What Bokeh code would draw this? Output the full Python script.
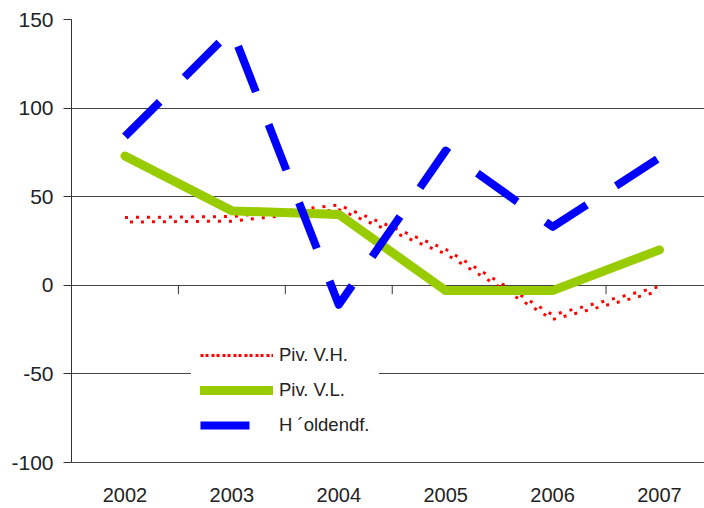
import numpy as np
from bokeh.plotting import figure
from bokeh.models import Range1d, FixedTicker, ColumnDataSource, Legend, LegendItem
from bokeh.transform import dodge
from bokeh.embed import file_html
from bokeh.resources import INLINE

# ---- data ----
years = ["2002", "2003", "2004", "2005", "2006", "2007"]
piv_vh = [37, 37.5, 44, 19, -18, -2]        # Piv. V.H.
piv_vl = [73, 42, 40, -3, -3, 20]           # Piv. V.L.
holdendf = [84, 144, -11, 76, 33, 72]       # H´oldendf.
y_ticks = [-100, -50, 0, 50, 100, 150]
y_tick_labels = ["-100", "-50", "0", "50", "100", "150"]

x = [i + 0.5 for i in range(len(years))]
src = ColumnDataSource(dict(x=x, vh=piv_vh, vl=piv_vl, hd=holdendf))

FONT = "Liberation Sans"

p = figure(width=704, height=508, output_backend="svg", toolbar_location=None,
           x_range=Range1d(0, 5.921), y_range=Range1d(-100, 150),
           min_border_left=71, min_border_right=0, min_border_top=19,
           min_border_bottom=46)
p.outline_line_color = None
p.background_fill_color = "white"

# grid
p.xgrid.visible = False
p.ygrid.ticker = FixedTicker(ticks=y_ticks)
p.ygrid.grid_line_color = "#444444"
p.ygrid.grid_line_width = 1

# y axis
p.yaxis.ticker = FixedTicker(ticks=y_ticks)
p.yaxis.major_label_overrides = {t: s for t, s in zip(y_ticks, y_tick_labels)}
p.yaxis.major_tick_out = 8
p.yaxis.major_tick_in = 0
p.yaxis.minor_tick_out = 0
p.yaxis.minor_tick_in = 0
p.yaxis.major_label_standoff = 10
p.yaxis.axis_line_color = "#333333"
p.yaxis.major_tick_line_color = "#333333"
p.yaxis.major_label_text_font = FONT
p.yaxis.major_label_text_font_size = "21px"
p.yaxis.major_label_text_color = "#222222"

# x axis (category labels at the bottom)
p.xaxis.ticker = FixedTicker(ticks=x)
p.xaxis.major_label_overrides = {xx: yr for xx, yr in zip(x, years)}
p.xaxis.major_tick_out = 0
p.xaxis.major_tick_in = 0
p.xaxis.minor_tick_out = 0
p.xaxis.minor_tick_in = 0
p.xaxis.major_label_standoff = 25
p.xaxis.axis_line_color = "#444444"
p.xaxis.major_label_text_font = FONT
p.xaxis.major_label_text_font_size = "20px"
p.xaxis.major_label_text_color = "#222222"

# category-boundary tick marks on the zero line
bounds = list(range(len(years) + 1))
p.segment(x0=bounds, y0=[0] * len(bounds), x1=bounds, y1=[-5] * len(bounds),
          line_color="#333333", line_width=1)

# series
r_vh1 = p.line('x', dodge('vh', 1.3), source=src, line_color="#FF0000",
               line_width=3, line_dash="3 8", line_dash_offset=0)
r_vh2 = p.line('x', dodge('vh', -1.3), source=src, line_color="#FF0000",
               line_width=3, line_dash="3 8", line_dash_offset=6)
r_vl = p.line('x', 'vl', source=src, line_color="#99CC00", line_width=9,
              line_cap="round", line_join="miter")
r_hd = p.line('x', 'hd', source=src, line_color="#0000FF", line_width=8,
              line_dash="49 35", line_cap="butt", line_join="round")

legend = Legend(items=[
    LegendItem(label="Piv. V.H.", renderers=[r_vh1, r_vh2]),
    LegendItem(label="Piv. V.L.", renderers=[r_vl]),
    LegendItem(label="H ´oldendf.", renderers=[r_hd]),
], location=(120, 13))
legend.glyph_width = 73
legend.glyph_height = 30
legend.label_height = 30
legend.spacing = 5
legend.padding = 9
legend.margin = 0
legend.label_standoff = 6
legend.label_text_font = FONT
legend.label_text_font_size = "18.5px"
legend.label_text_color = "#222222"
legend.border_line_alpha = 0
legend.background_fill_color = "white"
legend.background_fill_alpha = 1
p.add_layout(legend)

open("out.html", "w").write(file_html(p, INLINE))
